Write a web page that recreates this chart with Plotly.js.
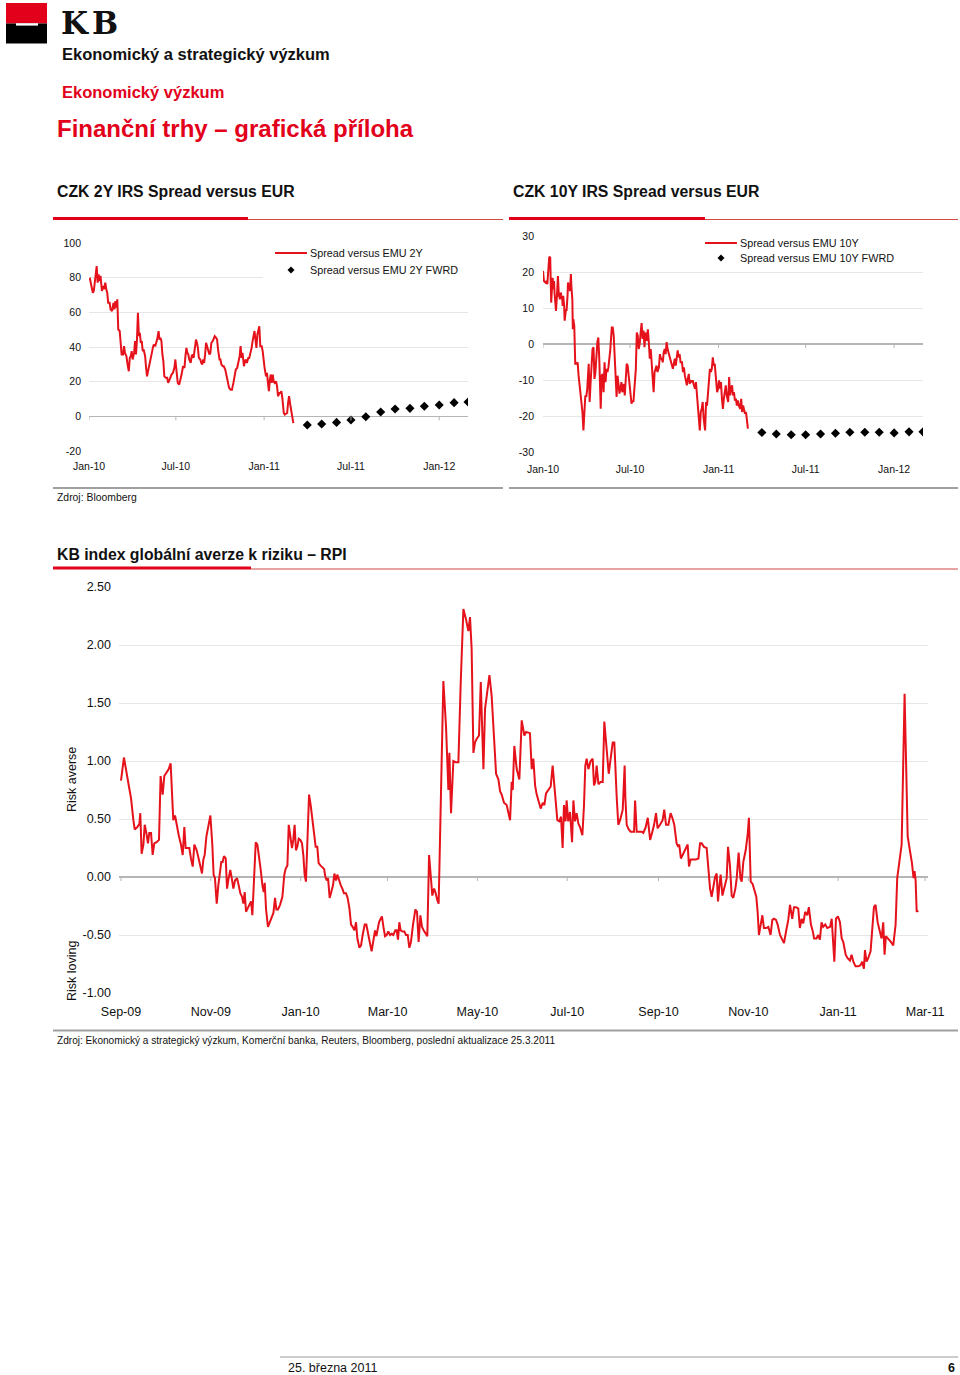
<!DOCTYPE html>
<html>
<head>
<meta charset="utf-8">
<script src="https://cdn.plot.ly/plotly-3.0.1.min.js"></script>
<style>
html,body{margin:0;padding:0;background:#fff;}
#page{width:960px;height:1375px;}
</style>
</head>
<body>
<div id="page"></div>
<script>
// ---------------- DATA ----------------
// Chart 1: CZK 2Y IRS spread versus EUR (bp); x = days since 2010-01-01
const SPREAD2Y_DAYS = [0,2,5,8,10,13,15,16,18,20,22,24,27,29,31,34,36,38,40,43,45,48,51,53,55,57,59,61,64,66,68,71,73,75,78,81,83,85,87,89,91,94,96,98,100,102,104,106,108,110,112,114,117,119,121,123,126,128,131,133,135,138,140,142,145,147,149,151,153,155,157,160,163,165,168,170,172,175,178,180,182,185,188,191,193,196,199,201,203,205,207,209,212,214,216,218,221,223,225,227,229,232,234,236,238,240,242,244,246,249,251,253,255,258,260,262,265,267,269,272,274,276,279,281,284,287,290,292,295,298,301,304,306,309,312,314,316,318,320,323,325,327,329,332,334,336,339,341,343,345,347,349,351,353,355,357,360,362,364,366,369,371,373,375,377,379,381,383,385,387,390,392,394,397,399,401,403,406,408,411,413,415,417,420,422,424,426];
const SPREAD2Y = [79.0,79.4,75.2,71.3,72.3,79.0,85.8,86.7,77.1,81.9,78.1,81.0,72.3,75.2,73.3,77.1,73.3,71.3,65.5,65.5,61.7,60.7,65.5,61.7,66.5,62.7,67.5,50.1,49.2,44.3,35.7,35.7,40.5,36.6,34.7,28.9,26.0,33.7,34.7,37.6,32.8,36.6,43.4,35.7,44.3,59.8,46.3,48.2,42.4,43.4,37.6,38.6,34.7,28.0,23.1,26.0,29.9,30.8,36.6,39.5,41.4,40.5,42.4,44.3,49.2,44.3,45.3,43.4,35.7,31.8,23.1,22.2,22.2,19.3,21.2,23.1,24.1,25.1,28.0,32.8,27.0,19.3,18.3,21.2,24.1,28.9,28.0,34.7,39.5,36.6,35.7,32.8,30.8,34.7,35.7,33.7,38.6,44.3,42.4,39.5,33.7,32.8,30.8,29.9,32.8,30.8,35.7,42.4,40.5,37.6,35.7,36.6,42.4,43.4,45.3,46.3,45.3,44.3,38.6,32.8,32.8,29.9,28.9,28.9,27.0,22.2,19.3,16.4,15.4,15.4,19.3,24.1,27.0,28.0,32.8,34.7,40.5,33.7,36.6,28.9,31.8,32.8,30.8,33.7,33.7,35.7,39.5,43.4,47.2,49.2,44.3,39.5,47.2,50.1,52.0,40.5,40.5,37.6,30.8,28.0,23.1,25.1,19.3,14.5,21.2,24.1,19.3,24.1,20.2,19.3,20.2,17.3,11.6,13.5,13.5,14.5,10.6,1.9,1.0,1.9,1.9,7.7,11.6,5.8,1.9,1.0,-3.9];
// Forward points, first day of month Apr-11 .. Mar-12 (days since 2010-01-01)
const FWRD_DAYS = [455,485,516,546,577,608,638,669,699,730,761,790];
const FWRD2Y = [-5.0,-4.4,-3.5,-2.1,-0.2,2.5,4.2,4.6,5.8,6.5,7.9,8.3];

// Chart 2: CZK 10Y IRS spread versus EUR (bp)
const SPREAD10Y_DAYS = [0,2,5,7,9,11,13,15,16,17,19,20,22,23,24,26,27,29,30,31,33,34,35,37,38,40,41,42,44,45,47,48,49,51,52,54,55,56,58,59,61,62,63,65,66,67,
70,72,74,76,78,80,82,84,86,88,90,92,95,97,99,101,103,105,107,109,111,113,115,117,120,122,124,126,128,130,132,134,136,138,140,143,145,147,149,151,153,155,157,159,161,163,165,168,170,172,174,176,178,180,182,184,186,188,191,193,195,197,199,201,203,205,207,209,211,213,216,218,220,222,224,226,228,230,232,234,236,238,241,243,245,247,249,251,253,255,257,259,261,263,266,268,270,272,274,276,278,280,282,284,286,289,291,293,295,297,299,301,303,305,307,309,311,314,316,318,320,322,324,326,328,330,332,334,337,339,341,343,345,347,349,351,353,355,357,359,362,364,366,368,370,372,374,376,378,380,382,385,387,389,391,393,395,397,399,401,403,405,407,410,412,414,416,418,420,422,424,426];
const SPREAD10Y = [20.3,17.5,17.1,17.5,16.6,21.7,24.2,24.0,18.9,11.5,16.1,18.4,15.2,17.5,14.3,9.2,9.2,13.4,16.1,18.9,13.4,13.4,12.4,14.3,13.4,12.4,10.6,13.4,10.6,6.5,8.8,9.7,9.2,13.4,17.1,15.2,16.1,14.7,19.4,16.1,12.4,4.1,6.9,5.1,0.5,-5.5,
-5.5,-5.1,-8.8,-11.5,-12.9,-15.7,-18.9,-24.0,-17.1,-14.3,-14.7,-12.4,-5.5,-16.1,-10.6,-6.5,-1.4,-0.9,-9.7,-7.8,-1.4,0.5,1.8,-4.1,-18.0,-8.8,-8.3,-13.4,-5.1,-10.6,-6.9,-7.8,-6.5,-4.1,-1.4,4.6,4.6,2.3,-4.1,-9.2,-14.7,-8.8,-11.5,-13.8,-12.4,-10.6,-13.4,-11.1,-14.3,-8.8,-5.5,-6.0,-8.8,-10.6,-14.3,-16.6,-15.7,-16.1,-10.6,-6.9,3.2,2.3,-1.4,0.0,3.2,5.8,1.4,3.7,-0.9,3.2,0.9,4.1,0.5,-4.1,-1.4,-6.5,-10.6,-13.4,-7.8,-6.9,-6.0,-7.8,-6.5,-2.8,-4.1,-4.1,-5.1,-2.3,-1.4,-2.8,0.5,-1.4,-2.3,-3.2,-4.6,-6.0,-6.9,-5.5,-4.1,-6.0,-3.2,-1.8,-3.7,-2.8,-5.1,-5.1,-7.8,-6.5,-8.8,-10.6,-11.5,-9.7,-8.3,-11.1,-10.1,-10.6,-10.1,-11.5,-12.4,-10.6,-14.3,-16.1,-20.3,-24.0,-18.9,-18.0,-16.1,-20.7,-24.0,-16.1,-17.1,-13.4,-8.8,-6.9,-7.8,-6.9,-3.7,-6.0,-5.5,-9.7,-13.4,-12.4,-10.1,-12.4,-10.6,-15.2,-18.0,-15.2,-12.4,-11.5,-14.3,-16.1,-9.2,-14.3,-12.4,-11.5,-14.3,-13.4,-15.7,-15.2,-17.1,-15.7,-17.1,-18.0,-15.2,-18.9,-17.1,-18.0,-19.4,-18.9,-20.7,-23.5];
const FWRD10Y = [-24.6,-25.0,-25.2,-25.2,-25.0,-24.8,-24.5,-24.5,-24.5,-24.7,-24.4,-24.4];

// Chart 3: KB RPI index; x = days since 2009-09-01
const RPI_DAYS = [0,2.0,5.4,6.8,8.4,9.3,11.1,12.5,13.1,14.0,15.2,16.1,17.2,18.3,19.2,20.4,21.5,22.6,24.2,25.8,26.9,28.3,29.4,31.0,32.4,33.7,35.5,36.7,37.8,39.2,40.7,41.9,43.0,43.9,45.3,46.4,47.5,48.7,49.8,51.4,52.7,54.1,55.0,55.9,56.8,58.0,59.3,60.7,62.0,62.9,63.8,65.0,66.1,67.2,68.1,69.0,69.9,71.1,72.0,73.1,74.2,75.2,76.3,77.4,78.8,79.9,81.0,82.2,83.1,84.0,84.9,86.0,87.2,88.3,89.2,90.3,91.5,92.6,93.7,94.8,96.0,96.9,97.6,98.5,99.8,101.0,102.1,103.5,104.6,105.5,106.6,108.0,109.6,110.9,111.8,113.0,113.9,115.0,116.1,117.0,117.9,118.8,119.7,120.7,121.8,122.9,123.8,124.7,125.6,126.5,127.7,128.8,129.9,131.1,132.2,133.3,134.2,135.4,136.5,137.9,138.8,139.7,140.6,141.7,142.8,144.0,144.9,146.0,146.9,148.0,149.2,150.3,151.4,152.8,153.9,155.1,156.2,157.3,158.5,159.6,160.5,161.9,163.0,164.1,165.5,166.6,167.7,168.9,170.2,171.4,172.5,173.4,174.3,175.2,176.3,177.2,178.2,179.3,180.4,181.5,182.7,183.8,184.9,186.3,187.2,188.1,189.0,189.9,191.3,192.4,193.5,194.7,195.8,196.9,198.3,199.9,201.0,202.1,203.3,204.4,205.5,206.7,208.0,209.2,210.3,211.4,212.6,213.7,214.8,215.7,218.9,220.7,222.3,223.0,224.1,225.7,227.3,229.1,230.7,232.5,234.3,235.9,237.0,238.1,239.3,240.4,241.5,243.1,244.3,246.1,247.2,248.8,250.2,251.7,253.6,254.7,256.3,
257.4,258.5,260.1,261.9,263.1,264.2,265.3,266.0,267.1,268.7,270.5,272.1,273.9,275.1,277.7,278.9,280.0,281.2,282.3,283.4,285.0,286.4,287.5,288.6,290.2,291.8,293.1,294.3,294.7,296.3,297.7,298.8,299.9,300.8,301.9,302.6,303.7,304.9,306.3,307.2,308.3,309.4,310.6,311.7,313.3,314.4,315.3,316.2,317.4,318.9,320.3,321.2,322.1,323.0,324.2,325.7,327.1,328.2,329.8,331.2,332.5,333.9,335.0,335.9,336.6,337.7,338.9,340.7,341.6,342.0,342.5,343.4,344.8,346.1,347.5,348.4,349.1,350.2,352.0,353.6,354.7,356.3,357.7,359.3,360.6,362.0,363.3,364.4,366.0,367.8,368.9,370.1,371.7,373.2,374.4,375.7,377.3,378.4,379.1,380.2,381.8,383.4,384.8,385.7,386.8,388.7,390.2,392.1,393.2,394.3,395.9,397.7,399.1,400.0,401.1,402.3,403.4,404.5,405.4,406.3,407.2,408.4,409.7,411.3,412.2,413.5,414.7,415.8,417.2,418.1,419.4,420.6,421.5,422.6,424.2,425.5,426.4,427.6,428.9,430.1,431.4,432.3,433.2,434.4,435.5,436.6,438.0,439.6,441.1,442.3,443.4,444.8,445.9,447.5,448.8,450.2,451.6,453.1,454.3,455.8,457.0,458.3,459.9,461.0,462.2,463.3,464.6,466.0,467.1,468.5,469.6,470.7,472.3,473.4,474.6,475.7,476.8,478.2,479.6,481.5,482.6,483.3,484.4,485.5,486.9,488.2,489.4,490.5,492.1,493.4,495.0,496.1,497.3,498.8,500.6,502.2,503.3,504.5,505.2,506.3,507.4,509.0,510.1,511.3,512.4,513.8,515.3,516.5,517.6,518.5,519.4,521.0,522.8,524.4,526.0,527.1,528.5,530.1,532.1,534.2,535.7,537.1,538.2,538.9,539.6,540.3,541.4];
const RPI = [0.83,1.03,0.78,0.68,0.49,0.41,0.43,0.46,0.55,0.20,0.28,0.45,0.38,0.29,0.38,0.38,0.19,0.29,0.30,0.32,0.87,0.71,0.87,0.90,0.93,0.98,0.49,0.53,0.45,0.36,0.28,0.19,0.43,0.25,0.25,0.25,0.16,0.09,0.28,0.23,0.16,0.09,0.03,0.15,0.19,0.35,0.45,0.53,0.28,0.02,-0.01,-0.23,-0.07,0.05,0.13,0.13,0.18,0.16,-0.10,-0.01,0.06,-0.01,-0.10,-0.03,-0.01,-0.07,-0.14,-0.17,-0.23,-0.13,-0.30,-0.27,-0.23,-0.21,-0.33,-0.01,0.30,0.28,0.19,0.07,-0.07,-0.13,-0.05,-0.28,-0.43,-0.39,-0.34,-0.31,-0.18,-0.28,-0.28,-0.24,-0.17,0.02,0.07,0.10,0.45,0.35,0.25,0.32,0.45,0.23,0.26,0.33,0.32,0.29,0.19,0.02,-0.04,0.28,0.71,0.62,0.51,0.39,0.26,0.26,0.12,0.10,0.09,0.07,0.00,-0.03,-0.01,-0.18,-0.13,-0.07,0.03,-0.03,0.02,-0.03,-0.07,-0.10,-0.14,-0.14,-0.18,-0.27,-0.41,-0.43,-0.46,-0.39,-0.53,-0.61,-0.59,-0.50,-0.41,-0.41,-0.50,-0.56,-0.64,-0.56,-0.46,-0.51,-0.46,-0.39,-0.36,-0.34,-0.43,-0.51,-0.50,-0.47,-0.50,-0.49,-0.50,-0.46,-0.46,-0.54,-0.39,-0.46,-0.47,-0.47,-0.50,-0.50,-0.61,-0.56,-0.41,-0.28,-0.30,-0.56,-0.33,-0.43,-0.46,-0.49,-0.51,0.19,-0.01,-0.16,-0.10,-0.14,-0.20,-0.23,1.69,1.30,0.75,1.07,0.55,1.00,0.99,0.99,1.68,2.31,2.22,2.12,2.24,1.97,1.07,1.16,1.19,1.22,1.68,0.93,1.45,1.59,1.74,1.56,1.05,0.89,0.84,
0.74,0.71,0.64,0.62,0.56,0.49,0.82,0.75,1.13,0.93,0.84,1.35,1.22,1.25,1.24,0.93,1.02,0.79,0.71,0.66,0.59,0.64,0.62,0.72,0.75,0.78,0.96,0.77,0.71,0.49,0.48,0.52,0.25,0.62,0.48,0.66,0.48,0.56,0.30,0.66,0.48,0.55,0.46,0.43,0.36,0.62,0.96,1.02,0.93,1.00,1.02,0.79,0.82,0.96,0.80,0.82,0.82,1.34,1.10,0.89,1.02,1.16,1.16,0.82,0.69,0.45,0.49,0.58,0.85,0.96,0.68,0.45,0.41,0.39,0.39,0.39,0.66,0.39,0.39,0.39,0.38,0.43,0.51,0.32,0.38,0.45,0.55,0.42,0.45,0.49,0.58,0.45,0.45,0.55,0.51,0.45,0.29,0.26,0.28,0.16,0.20,0.25,0.28,0.09,0.15,0.15,0.15,0.16,0.29,0.29,0.26,0.25,-0.01,-0.10,-0.17,-0.07,0.00,0.03,-0.21,-0.08,0.02,-0.16,-0.10,-0.01,0.26,0.10,-0.16,-0.18,-0.10,-0.01,0.21,-0.01,-0.04,0.13,0.23,0.36,0.51,-0.04,-0.06,-0.11,-0.17,-0.30,-0.50,-0.41,-0.33,-0.44,-0.44,-0.43,-0.50,-0.37,-0.36,-0.37,-0.41,-0.50,-0.53,-0.57,-0.47,-0.37,-0.24,-0.36,-0.26,-0.26,-0.27,-0.44,-0.36,-0.40,-0.30,-0.33,-0.26,-0.41,-0.46,-0.53,-0.53,-0.50,-0.54,-0.39,-0.43,-0.41,-0.44,-0.43,-0.36,-0.50,-0.73,-0.36,-0.34,-0.39,-0.53,-0.56,-0.67,-0.70,-0.72,-0.67,-0.73,-0.77,-0.77,-0.76,-0.73,-0.79,-0.63,-0.73,-0.70,-0.64,-0.41,-0.26,-0.24,-0.39,-0.47,-0.53,-0.39,-0.67,-0.51,-0.53,-0.56,-0.59,-0.41,-0.01,0.13,0.28,1.58,0.35,0.23,0.12,-0.01,0.05,-0.03,-0.30,-0.29];

// Tick positions and labels
const X12_TICKS = [0,181,365,546,730];
const X12_LABELS = ['Jan-10','Jul-10','Jan-11','Jul-11','Jan-12'];
const Y1_TICKS = [-20,0,20,40,60,80,100];
const Y1_LABELS = ['-20','0','20','40','60','80','100'];
const Y2_TICKS = [-30,-20,-10,0,10,20,30];
const Y2_LABELS = ['-30','-20','-10','0','10','20','30'];
const X3_TICKS = [0,61,122,181,242,303,365,426,487,546];
const X3_LABELS = ['Sep-09','Nov-09','Jan-10','Mar-10','May-10','Jul-10','Sep-10','Nov-10','Jan-11','Mar-11'];
const Y3_TICKS = [-1,-0.5,0,0.5,1,1.5,2,2.5];
const Y3_LABELS = ['-1.00','-0.50','0.00','0.50','1.00','1.50','2.00','2.50'];

// ---------------- STYLE / LAYOUT ----------------
const W = 960, H = 1375;
const px = x => x / W;
const py = y => 1 - y / H;
const FONT = '"Liberation Sans", Arial, Helvetica, sans-serif';
const SERIF = '"DejaVu Serif", "Liberation Serif", serif';
const RED = '#e2001a';
const LINE_RED = '#e5121b';
const GRID = '#e6e6e6';
const ZERO = '#b5b5b5';

function txt(text, x, y, size, color, extra) {
  return Object.assign({
    xref: 'paper', yref: 'paper', x: px(x), y: py(y), text: text,
    showarrow: false, xanchor: 'left', yanchor: 'middle', borderpad: 0,
    font: { family: FONT, size: size, color: color }
  }, extra || {});
}
function rect(x0, y0, x1, y1, color) {
  return { type: 'rect', xref: 'paper', yref: 'paper', x0: px(x0), x1: px(x1), y0: py(y0), y1: py(y1),
    fillcolor: color, line: { width: 0 }, layer: 'above' };
}
function hline(x0, x1, y, color, width) {
  return { type: 'line', xref: 'paper', yref: 'paper', x0: px(x0), x1: px(x1), y0: py(y), y1: py(y),
    line: { color: color, width: width }, layer: 'above' };
}
function diamond(x, y, r) {
  const p = [[x, y - r], [x + r, y], [x, y + r], [x - r, y]].map(q => px(q[0]).toFixed(5) + ',' + py(q[1]).toFixed(5));
  return { type: 'path', xref: 'paper', yref: 'paper', path: 'M' + p.join('L') + 'Z',
    fillcolor: '#000', line: { width: 0 }, layer: 'above' };
}
function zeroTicks(xref, yref, ticks) {
  return ticks.map(t => ({ type: 'line', xref: xref, yref: yref, x0: t, x1: t,
    ysizemode: 'pixel', yanchor: 0, y0: 0, y1: -4, line: { color: ZERO, width: 1 }, layer: 'above' }));
}

const traces = [
  { type: 'scatter', mode: 'lines', x: SPREAD2Y_DAYS, y: SPREAD2Y, xaxis: 'x', yaxis: 'y',
    line: { color: LINE_RED, width: 2 }, name: 'Spread versus EMU 2Y' },
  { type: 'scatter', mode: 'markers', x: FWRD_DAYS, y: FWRD2Y, xaxis: 'x', yaxis: 'y',
    marker: { symbol: 'diamond', size: 7, color: '#000' }, name: 'Spread versus EMU 2Y FWRD' },
  { type: 'scatter', mode: 'lines', x: SPREAD10Y_DAYS, y: SPREAD10Y, xaxis: 'x2', yaxis: 'y2',
    line: { color: LINE_RED, width: 2 }, name: 'Spread versus EMU 10Y' },
  { type: 'scatter', mode: 'markers', x: FWRD_DAYS, y: FWRD10Y, xaxis: 'x2', yaxis: 'y2',
    marker: { symbol: 'diamond', size: 7, color: '#000' }, name: 'Spread versus EMU 10Y FWRD' },
  { type: 'scatter', mode: 'lines', x: RPI_DAYS, y: RPI, xaxis: 'x3', yaxis: 'y3',
    line: { color: LINE_RED, width: 2 }, name: 'RPI' }
];

const xBase = { showgrid: false, zeroline: false, showline: false, ticks: '', fixedrange: true };
const yBase = { showgrid: true, gridcolor: GRID, gridwidth: 1, zeroline: true, zerolinecolor: ZERO,
  zerolinewidth: 1.3, showline: false, ticks: '', fixedrange: true };

const layout = {
  width: W, height: H, margin: { l: 0, r: 0, t: 0, b: 0, pad: 0 },
  paper_bgcolor: '#fff', plot_bgcolor: 'rgba(0,0,0,0)', showlegend: false,
  font: { family: FONT, size: 11, color: '#111' },
  xaxis: Object.assign({}, xBase, { domain: [px(89), px(468)], range: [0, 790], anchor: 'y',
    tickvals: X12_TICKS, ticktext: X12_LABELS, tickfont: { size: 10.5, color: '#111' }, ticklabelstandoff: 7 }),
  yaxis: Object.assign({}, yBase, { domain: [py(451), py(243)], range: [-20, 100], anchor: 'x',
    tickvals: Y1_TICKS, ticktext: Y1_LABELS, tickfont: { size: 10.5, color: '#111' }, ticklabelstandoff: 7 }),
  xaxis2: Object.assign({}, xBase, { domain: [px(543), px(923)], range: [0, 790], anchor: 'y2',
    tickvals: X12_TICKS, ticktext: X12_LABELS, tickfont: { size: 10.5, color: '#111' }, ticklabelstandoff: 9 }),
  yaxis2: Object.assign({}, yBase, { domain: [py(452), py(236)], range: [-30, 30], anchor: 'x2',
    tickvals: Y2_TICKS, ticktext: Y2_LABELS, tickfont: { size: 10.5, color: '#111' }, ticklabelstandoff: 8 }),
  xaxis3: Object.assign({}, xBase, { domain: [px(119), px(928)], range: [-1.36, 548], anchor: 'y3',
    tickvals: X3_TICKS, ticktext: X3_LABELS, tickfont: { size: 12.5, color: '#111' }, ticklabelstandoff: 9 }),
  yaxis3: Object.assign({}, yBase, { domain: [py(993), py(587)], range: [-1, 2.5], anchor: 'x3',
    tickvals: Y3_TICKS, ticktext: Y3_LABELS, tickfont: { size: 12.5, color: '#111' }, ticklabelstandoff: 7 }),
  shapes: [],
  annotations: []
};

const S = layout.shapes, A = layout.annotations;
// KB logo
S.push(rect(6, 3, 47, 23.5, RED));
S.push(rect(6, 23.5, 47, 43.5, '#000'));
S.push(rect(16, 23.2, 38, 25.6, '#fff'));
A.push(txt('<b>K</b>', 60, 23, 31, '#111', { font: { family: SERIF, size: 31, color: '#111' } }));
A.push(txt('<b>B</b>', 91, 23, 31, '#111', { font: { family: SERIF, size: 31, color: '#111' } }));

// Header texts
A.push(txt('<b>Ekonomický a strategický výzkum</b>', 61, 54, 16.5, '#111'));
A.push(txt('<b>Ekonomický výzkum</b>', 61, 92, 16.5, RED));
A.push(txt('<b>Finanční trhy – grafická příloha</b>', 56, 128, 24, RED));

// Chart titles + underlines
A.push(txt('<b>CZK 2Y IRS Spread versus EUR</b>', 56, 191.5, 15.8, '#111'));
A.push(txt('<b>CZK 10Y IRS Spread versus EUR</b>', 512, 191.5, 15.8, '#111'));
S.push(hline(248, 503, 219.5, '#d04848', 1));
S.push(hline(53, 248, 218.5, RED, 3));
S.push(hline(705, 958, 219.5, '#d04848', 1));
S.push(hline(509, 705, 218.5, RED, 3));

// Legends (chart 1 and 2)
S.push(rect(263, 246, 472, 286, '#fff'));
S.push(hline(275, 307, 253, LINE_RED, 2));
S.push(diamond(291, 270, 3.5));
A.push(txt('Spread versus EMU 2Y', 309, 253, 10.8, '#111'));
A.push(txt('Spread versus EMU 2Y FWRD', 309, 270, 10.8, '#111'));
S.push(rect(702, 230, 902, 266, '#fff'));
S.push(hline(705, 737, 243, LINE_RED, 2));
S.push(diamond(721, 258, 3.5));
A.push(txt('Spread versus EMU 10Y', 739, 243, 10.8, '#111'));
A.push(txt('Spread versus EMU 10Y FWRD', 739, 258, 10.8, '#111'));

// zero-line ticks
zeroTicks('x', 'y', X12_TICKS).forEach(s => S.push(s));
zeroTicks('x2', 'y2', X12_TICKS).forEach(s => S.push(s));
zeroTicks('x3', 'y3', X3_TICKS).forEach(s => S.push(s));

// separators + source
S.push(hline(53, 503, 488, '#a0a0a0', 2));
S.push(hline(509, 958, 488, '#a0a0a0', 2));
A.push(txt('Zdroj: Bloomberg', 56, 497, 10.4, '#111'));

// RPI title
A.push(txt('<b>KB index globální averze k riziku – RPI</b>', 56, 554.5, 15.8, '#111'));
S.push(hline(251, 958, 569, '#d04848', 1));
S.push(hline(53, 251, 568, RED, 3));
A.push(txt('Risk averse', 72, 780, 12.5, '#111', { textangle: -90, xanchor: 'center' }));
A.push(txt('Risk loving', 72, 971, 12.5, '#111', { textangle: -90, xanchor: 'center' }));
S.push(hline(53, 958, 1030.5, '#a0a0a0', 2));
A.push(txt('Zdroj: Ekonomický a strategický výzkum, Komerční banka, Reuters, Bloomberg, poslední aktualizace 25.3.2011', 56, 1040, 10.1, '#111'));

// footer
S.push(hline(280, 958, 1357, '#9a9a9a', 1));
A.push(txt('25. března 2011', 287, 1367.5, 12.5, '#111'));
A.push(txt('<b>6</b>', 951, 1367.5, 12.5, '#111', { xanchor: 'center' }));

Plotly.newPlot('page', traces, layout, { displayModeBar: false, staticPlot: true });
</script>
</body>
</html>
